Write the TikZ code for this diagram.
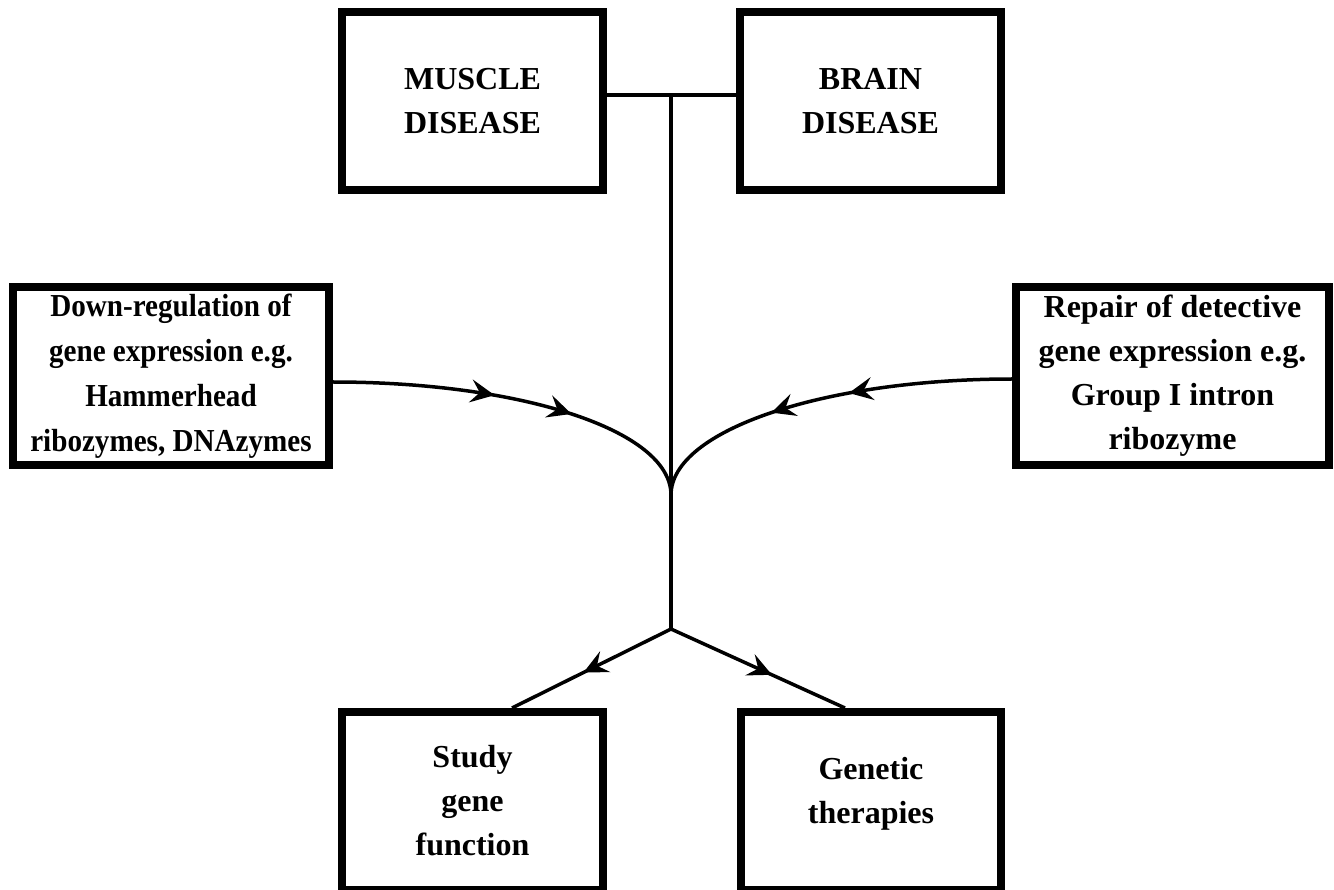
\documentclass[tikz,border=0pt]{standalone}
\usepackage{fontspec}
\setmainfont{Liberation Serif}
\newfontfamily\condfont[FakeStretch=0.91]{Liberation Serif}
\usetikzlibrary{arrows.meta,decorations.markings}
\begin{document}
\begin{tikzpicture}[x=1pt,y=-1pt,
  box/.style={draw, line width=8pt, rectangle, minimum height=178pt, align=center, inner sep=0pt,
    font=\fontsize{32}{44}\selectfont\bfseries},
  conn/.style={line width=3.5pt},
  arrtwo/.style 2 args={postaction={decorate}, decoration={markings,
    mark=at position #1 with {\arrow{Stealth[length=24pt,width=23pt,inset=9pt]}},
    mark=at position #2 with {\arrow{Stealth[length=24pt,width=23pt,inset=9pt]}}}},
  arrone/.style={postaction={decorate}, decoration={markings,
    mark=at position #1 with {\arrow{Stealth[length=24pt,width=23pt,inset=9pt]}}}}]
\clip (0,0) rectangle (1334,890);
\fill[white] (0,0) rectangle (1334,890);

\node[box, minimum width=261pt] (muscle) at (472.5,101) {MUSCLE\\DISEASE};
\node[box, minimum width=261pt] (brain) at (870.5,101) {BRAIN\\DISEASE};
\node[box, minimum width=316pt, font=\fontsize{32}{45}\selectfont\condfont\bfseries] (down) at (171,376)
  {Down-regulation of\\gene expression e.g.\\Hammerhead\\ribozymes, DNAzymes};
\node[box, minimum width=313pt, yshift=0pt] (repair) at (1172.5,376)
  {Repair of detective\\gene expression e.g.\\Group I intron\\ribozyme};
\node[box, minimum width=261pt] (study) at (472.5,801) {Study\\gene\\function};
\node[box, minimum width=260pt, text depth=21pt] (gen) at (871,801) {Genetic\\therapies};

\coordinate (tj) at (671,95);
\coordinate (cusp) at (671,495);
\coordinate (bj) at (671,629);

\draw[conn] (muscle.east |- tj) -- (brain.west |- tj);
\draw[conn] (tj) -- (bj);
\draw[conn, arrtwo={0.43}{0.64}] ([yshift=-6pt]down.east) .. controls +(187,0) and +(0,-65) .. (cusp);
\draw[conn, arrtwo={0.43}{0.64}] ([yshift=-3pt]repair.west) .. controls +(-187,0) and +(0,-65) .. (cusp);
\draw[conn, arrone=0.55] (bj) -- ([xshift=39.5pt]study.north);
\draw[conn, arrone=0.58] (bj) -- ([xshift=-26pt]gen.north);
\end{tikzpicture}
\end{document}
